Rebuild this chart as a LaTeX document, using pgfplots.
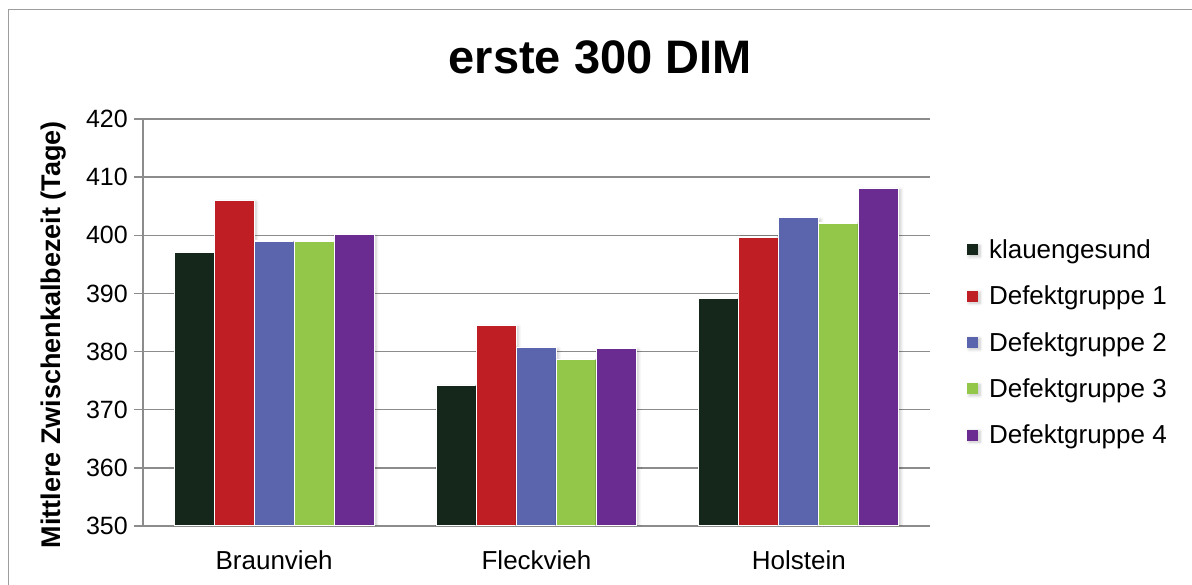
\documentclass[border=0pt]{standalone}
\usepackage{pgfplots}
\pgfplotsset{compat=1.18}
\usepackage{fontspec}
\setmainfont{Liberation Sans}
\usetikzlibrary{shadows.blur}

\definecolor{cHealthy}{HTML}{15261A}
\definecolor{cDefA}{HTML}{BE1E24}
\definecolor{cDefB}{HTML}{5B65AE}
\definecolor{cDefC}{HTML}{92C74A}
\definecolor{cDefD}{HTML}{6A2C91}
\definecolor{cGrid}{HTML}{8C8C8C}

% Mean calving interval per breed (rows) and claw-health group
\pgfplotstableread{
idx healthy defA defB defC defD
0   397.0   406.0 399.0 399.0 400.1
1   374.2   384.5 380.7 378.6 380.6
2   389.1   399.7 403.0 402.1 408.1
}\calvingdata

\begin{document}
\begin{tikzpicture}
\useasboundingbox (0,0) rectangle (1192bp,585bp);
\draw[cGrid!85, line width=1.6bp] (8.5bp,0) -- (8.5bp,575.5bp) -- (1192bp,575.5bp);

\begin{axis}[
  at={(143bp,59bp)}, anchor=south west,
  scale only axis, width=787bp, height=407bp,
  xmin=-0.5, xmax=2.5, ymin=350, ymax=420,
  ytick={350,360,...,420},
  xtick=data, xticklabels={Braunvieh,Fleckvieh,Holstein},
  axis lines=left, axis line style={-, cGrid, line width=1.5bp},
  ymajorgrids, grid style={cGrid, line width=1.5bp},
  tick align=outside, major tick length=9bp,
  ytick style={cGrid, line width=1.5bp},
  xtick style={draw=none},
  /pgf/number format/assume math mode=true,
  yticklabel style={inner sep=0pt, xshift=-6bp, font=\fontsize{25bp}{28bp}\selectfont},
  xticklabel style={inner sep=0pt, yshift=-15bp, font=\fontsize{26bp}{30bp}\selectfont},
  ylabel={\textbf{Mittlere Zwischenkalbezeit (Tage)}},
  ylabel style={at={(axis description cs:-0.113,0.47)}, anchor=center,
    font=\fontsize{27bp}{30bp}\selectfont},
  title={\textbf{erste 300 DIM}},
  title style={at={(axis description cs:0.581,1.098)}, anchor=base,
    font=\fontsize{47bp}{50bp}\selectfont},
  ybar=0pt, bar width=0.1525,
  every axis plot/.append style={draw=white, line width=1.2bp,
    blur shadow={shadow xshift=2bp, shadow yshift=-1.5bp, shadow blur steps=6,
      shadow opacity=22, shadow blur radius=3bp}},
  legend cell align=left,
  legend style={draw=none, fill=none, at={(axis description cs:1.043,0.709)}, anchor=north west,
    font=\fontsize{26bp}{30bp}\selectfont,
    nodes={inner sep=0pt, text height=19bp, text depth=5.5bp},
    row sep=21.8bp, column sep=11bp},
  legend image code/.code={\fill[#1, draw=none] (0bp,-3.5bp) rectangle (11bp,7.5bp);},
]
\addplot[fill=cHealthy] table[x=idx, y=healthy] {\calvingdata};
\addplot[fill=cDefA] table[x=idx, y=defA] {\calvingdata};
\addplot[fill=cDefB] table[x=idx, y=defB] {\calvingdata};
\addplot[fill=cDefC] table[x=idx, y=defC] {\calvingdata};
\addplot[fill=cDefD] table[x=idx, y=defD] {\calvingdata};
\legend{klauengesund, Defektgruppe 1, Defektgruppe 2, Defektgruppe 3, Defektgruppe 4}
\end{axis}
\end{tikzpicture}
\end{document}
